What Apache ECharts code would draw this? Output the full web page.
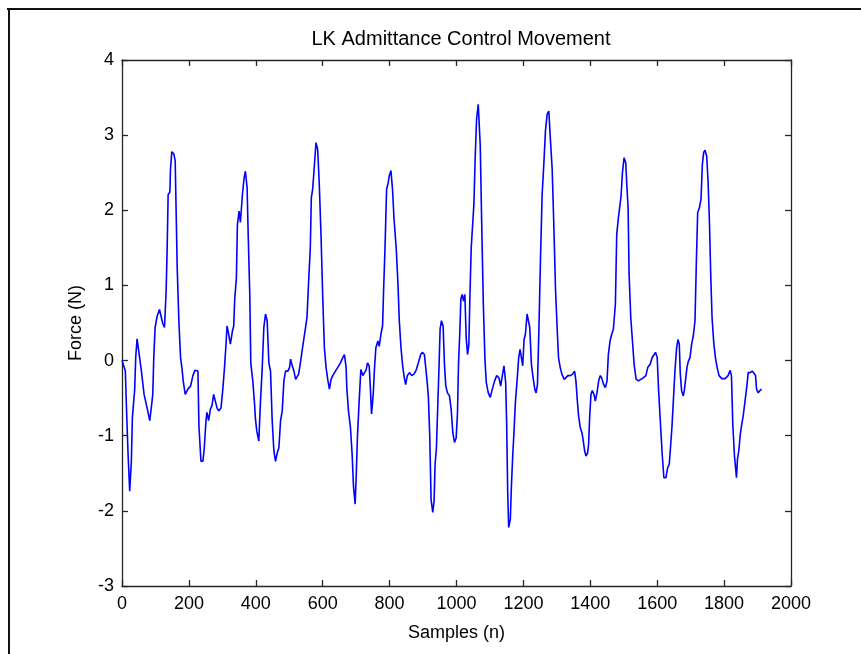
<!DOCTYPE html>
<html>
<head>
<meta charset="utf-8">
<script src="https://cdn.jsdelivr.net/npm/echarts@6/dist/echarts.min.js"></script>
<style>
html,body{margin:0;padding:0;background:#fff;}
#c{width:861px;height:654px;}
</style>
</head>
<body>
<div id="c"></div>
<script>
var samples = [0,10,13,18,23,28,31,38,41,45,50,58,66,75,83,87,92,95,99,105,112,117,122,127,132,135,138,143,145,149,155,159,162,165,170,175,179,183,189,197,205,212,218,227,230,236,242,246,251,254,259,264,269,274,279,284,289,296,301,306,311,314,319,324,330,334,337,342,345,350,354,360,365,369,374,377,382,385,391,396,399,403,409,414,419,424,429,434,439,444,449,454,459,464,469,474,479,484,489,496,501,504,509,514,519,524,528,534,539,544,548,553,558,563,566,570,575,580,585,590,595,600,605,610,615,620,625,630,638,645,653,660,665,670,672,677,683,688,692,697,700,704,709,714,720,724,730,734,739,742,746,751,755,759,765,769,774,779,782,786,791,796,799,804,809,813,820,825,829,834,839,844,848,853,860,866,873,880,886,893,898,904,908,913,916,920,924,929,933,936,940,944,948,951,955,960,964,968,973,979,984,989,994,999,1003,1006,1010,1013,1017,1021,1025,1029,1033,1037,1040,1044,1048,1052,1056,1060,1065,1069,1071,1075,1080,1085,1089,1095,1101,1107,1114,1120,1127,1132,1137,1142,1147,1150,1153,1156,1161,1164,1168,1172,1176,1181,1186,1190,1194,1198,1202,1206,1211,1215,1219,1224,1229,1234,1238,1242,1246,1251,1256,1261,1266,1271,1276,1281,1286,1291,1296,1301,1305,1310,1315,1322,1327,1333,1340,1347,1353,1357,1361,1365,1370,1375,1379,1383,1387,1392,1395,1398,1402,1406,1411,1415,1420,1425,1430,1434,1440,1445,1450,1454,1459,1464,1469,1475,1479,1484,1489,1492,1496,1501,1506,1509,1513,1516,1521,1526,1531,1537,1544,1551,1558,1566,1572,1579,1585,1591,1595,1600,1604,1609,1615,1620,1626,1631,1636,1639,1644,1648,1653,1658,1662,1666,1669,1673,1678,1681,1685,1689,1693,1698,1703,1708,1713,1717,1721,1726,1731,1735,1739,1743,1748,1752,1756,1760,1764,1769,1774,1779,1785,1793,1803,1812,1818,1822,1826,1831,1837,1840,1844,1848,1852,1857,1862,1868,1872,1878,1884,1889,1894,1897,1902,1907,1912];
var force = [0.0,-0.14,-0.58,-1.23,-1.74,-1.34,-0.76,-0.38,0.04,0.29,0.13,-0.14,-0.45,-0.63,-0.80,-0.65,-0.45,0.04,0.44,0.59,0.68,0.70,0.49,0.44,0.93,1.50,2.21,2.24,2.55,2.78,2.75,2.66,1.95,1.24,0.53,0.04,-0.09,-0.27,-0.45,-0.38,-0.34,-0.20,-0.13,-0.14,-0.87,-1.34,-1.34,-1.16,-0.80,-0.69,-0.80,-0.65,-0.60,-0.45,-0.47,-0.63,-0.67,-0.63,-0.40,-0.12,0.22,0.46,0.35,0.22,0.39,0.46,0.82,1.10,1.81,1.99,1.84,2.21,2.43,2.52,2.30,1.72,0.88,-0.03,-0.27,-0.56,-0.78,-0.94,-1.07,-0.54,-0.12,0.44,0.62,0.53,-0.03,-0.14,-0.80,-1.20,-1.34,-1.23,-1.16,-0.80,-0.67,-0.27,-0.14,-0.14,-0.09,0.02,-0.07,-0.14,-0.25,-0.27,-0.18,-0.01,0.15,0.30,0.42,0.57,1.06,1.50,2.17,2.28,2.59,2.90,2.81,2.32,1.66,0.86,0.17,-0.09,-0.25,-0.38,-0.25,-0.20,-0.14,-0.09,-0.03,0.04,0.08,-0.09,-0.36,-0.67,-0.89,-1.25,-1.67,-1.91,-1.56,-1.00,-0.54,-0.12,-0.20,-0.20,-0.12,-0.03,-0.07,-0.32,-0.71,-0.45,-0.09,0.17,0.26,0.19,0.35,0.46,0.93,1.46,2.28,2.37,2.46,2.53,2.26,1.90,1.48,1.02,0.53,0.17,-0.07,-0.23,-0.32,-0.20,-0.16,-0.20,-0.18,-0.12,-0.03,0.08,0.11,0.08,-0.09,-0.32,-0.49,-1.00,-1.85,-2.02,-1.87,-1.38,-1.16,-0.60,-0.05,0.42,0.53,0.46,-0.05,-0.34,-0.43,-0.47,-0.65,-0.96,-1.09,-1.03,-0.69,-0.05,0.39,0.82,0.88,0.79,0.88,0.30,0.08,0.22,0.84,1.50,1.79,2.08,2.72,3.21,3.41,3.39,2.86,1.90,0.79,0.02,-0.29,-0.43,-0.49,-0.38,-0.27,-0.20,-0.23,-0.34,-0.20,-0.07,-0.29,-0.85,-1.74,-2.22,-2.11,-1.69,-1.27,-0.94,-0.56,-0.27,0.04,0.15,0.04,-0.07,0.28,0.35,0.62,0.62,0.44,-0.05,-0.23,-0.38,-0.43,-0.32,0.35,1.33,2.21,2.61,3.06,3.28,3.32,2.92,2.55,1.79,0.95,0.42,0.04,-0.09,-0.18,-0.25,-0.27,-0.20,-0.20,-0.18,-0.14,-0.27,-0.52,-0.74,-0.89,-0.96,-1.07,-1.20,-1.27,-1.23,-1.11,-0.76,-0.45,-0.40,-0.45,-0.54,-0.43,-0.27,-0.20,-0.23,-0.32,-0.36,-0.27,0.08,0.26,0.35,0.42,0.75,1.68,1.90,1.92,2.19,2.50,2.70,2.63,2.35,2.03,1.15,0.57,0.26,-0.05,-0.25,-0.27,-0.25,-0.23,-0.20,-0.09,-0.05,0.04,0.08,0.11,0.04,-0.38,-0.78,-1.25,-1.56,-1.56,-1.43,-1.38,-1.20,-0.89,-0.56,-0.14,0.17,0.28,0.22,-0.18,-0.40,-0.47,-0.40,-0.25,-0.09,-0.01,0.04,0.22,0.33,0.53,1.30,1.97,2.03,2.15,2.61,2.77,2.80,2.72,2.39,1.88,1.15,0.57,0.24,0.04,-0.09,-0.20,-0.24,-0.24,-0.20,-0.13,-0.20,-0.85,-1.27,-1.56,-1.31,-1.20,-1.00,-0.87,-0.74,-0.56,-0.34,-0.16,-0.16,-0.14,-0.13,-0.20,-0.38,-0.43,-0.40,-0.38];

var titleText = 'LK Admittance Control Movement';
var xName = 'Samples (n)';
var yName = 'Force (N)';

var data = samples.map(function (s, i) { return [s, force[i]]; });

var fontFam = '"Liberation Sans", Arial, sans-serif';
var axisCol = '#262626';
var chart = echarts.init(document.getElementById('c'), null, {renderer: 'canvas'});

function plain(v) { return String(v); }

function axisBase(extra) {
  var o = {
    type: 'value',
    axisLine: {show: true, onZero: false, lineStyle: {color: axisCol, width: 1.3}},
    axisTick: {show: true, inside: true, length: 6, lineStyle: {color: axisCol, width: 1.3}},
    splitLine: {show: false},
    axisLabel: {show: true, color: '#000', fontFamily: fontFam, fontSize: 18, formatter: plain}
  };
  for (var k in extra) o[k] = extra[k];
  return o;
}

chart.setOption({
  animation: false,
  backgroundColor: '#fff',
  title: {
    text: titleText,
    left: 456, top: 24, textAlign: 'center',
    textStyle: {fontFamily: fontFam, fontSize: 20, fontWeight: 'normal', color: '#000'}
  },
  grid: {left: 122, top: 60, width: 669, height: 526, containLabel: false},
  xAxis: [
    axisBase({min: 0, max: 2000, interval: 200, position: 'bottom',
      name: xName, nameLocation: 'middle', nameGap: 38,
      nameTextStyle: {fontFamily: fontFam, fontSize: 18, color: '#000'},
      axisLabel: {show: true, color: '#000', fontFamily: fontFam, fontSize: 18, margin: 9, formatter: plain}}),
    axisBase({min: 0, max: 2000, interval: 200, position: 'top', axisLabel: {show: false}})
  ],
  yAxis: [
    axisBase({min: -3, max: 4, interval: 1, position: 'left',
      name: yName, nameLocation: 'middle', nameGap: 37, nameRotate: 90,
      nameTextStyle: {fontFamily: fontFam, fontSize: 18, color: '#000'},
      axisLabel: {show: true, color: '#000', fontFamily: fontFam, fontSize: 18, margin: 8, formatter: plain}}),
    axisBase({min: -3, max: 4, interval: 1, position: 'right', axisLabel: {show: false}})
  ],
  graphic: [
    {type: 'line', shape: {x1: 7, y1: 9, x2: 861, y2: 9}, style: {stroke: '#111', lineWidth: 2}},
    {type: 'line', shape: {x1: 9, y1: 9, x2: 9, y2: 654}, style: {stroke: '#111', lineWidth: 2}}
  ],
  series: [{
    type: 'line',
    data: data,
    xAxisIndex: 0, yAxisIndex: 0,
    showSymbol: false,
    lineStyle: {color: '#0000ff', width: 1.6},
    itemStyle: {color: '#0000ff'}
  }]
});
</script>
</body>
</html>
